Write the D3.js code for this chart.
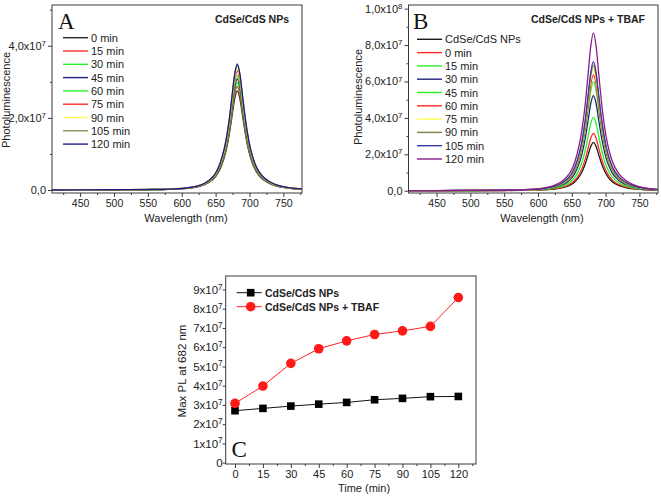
<!DOCTYPE html>
<html><head><meta charset="utf-8">
<script src="https://cdn.jsdelivr.net/npm/d3@7"></script>
<style>
body{margin:0;background:#fff;}
svg{display:block;font-family:"Liberation Sans",Arial,sans-serif;}
</style></head>
<body>
<script>
// ---------- DATA ----------
// shared wavelength grid and normalised emission profile (peak ~682 nm)
const wavelengths = [408, 450, 500, 550, 580, 600, 615, 625, 635, 645, 650, 655, 660, 665, 670, 674, 678, 682, 686, 690, 694, 699, 704, 710, 720, 730, 740, 750, 760, 777];
const profile     = [0.000, 0.001, 0.002, 0.004, 0.007, 0.012, 0.022, 0.035, 0.058, 0.100, 0.135, 0.190, 0.270, 0.385, 0.555, 0.735, 0.915, 1.000, 0.915, 0.735, 0.560, 0.390, 0.275, 0.185, 0.105, 0.065, 0.040, 0.026, 0.017, 0.008];

// Panel A
const seriesA = ["0 min", "15 min", "30 min", "45 min", "60 min", "75 min", "90 min", "105 min", "120 min"];
const peaksA  = [2.75e7, 2.87e7, 2.98e7, 3.08e7, 3.18e7, 3.30e7, 3.38e7, 3.46e7, 3.50e7];
const colorsA = ["#2a2a2a", "#ff2a2a", "#2aee2a", "#22227e", "#2aee2a", "#ff2a2a", "#ffff55", "#8a8a55", "#1c1c88"];
const yTickValsA = [0, 2e7, 4e7];
const yTickMantA = ["0,0", "2,0x10", "4,0x10"];
const yTickExpA  = ["", "7", "7"];

// Panel B
const seriesB = ["CdSe/CdS NPs", "0 min", "15 min", "30 min", "45 min", "60 min", "75 min", "90 min", "105 min", "120 min"];
const peaksB  = [2.66e7, 3.15e7, 4.03e7, 5.22e7, 5.99e7, 6.36e7, 6.72e7, 6.90e7, 7.09e7, 8.65e7];
const colorsB = ["#1a1a1a", "#ff2a2a", "#2aee2a", "#22227e", "#2aee2a", "#ff2a2a", "#ffff55", "#808045", "#3a3aa0", "#8b1a8b"];
const yTickValsB = [0, 2e7, 4e7, 6e7, 8e7, 1e8];
const yTickMantB = ["0,0", "2,0x10", "4,0x10", "6,0x10", "8,0x10", "1,0x10"];
const yTickExpB  = ["", "7", "7", "7", "7", "8"];

// Spectra x ticks
const xTicksSpec = [450, 500, 550, 600, 650, 700, 750];
const xMinorSpec = [425, 475, 525, 575, 625, 675, 725, 775];

// Panel C
const timesC   = [0, 15, 30, 45, 60, 75, 90, 105, 120];
const npsC     = [2.70e7, 2.82e7, 2.94e7, 3.04e7, 3.13e7, 3.27e7, 3.34e7, 3.43e7, 3.44e7];
const tbafC    = [3.08e7, 3.98e7, 5.16e7, 5.92e7, 6.33e7, 6.66e7, 6.85e7, 7.08e7, 8.58e7];
const legendC  = ["CdSe/CdS NPs", "CdSe/CdS NPs + TBAF"];
const yTickValsC = [0, 1e7, 2e7, 3e7, 4e7, 5e7, 6e7, 7e7, 8e7, 9e7];
const yTickMantC = ["0", "1x10", "2x10", "3x10", "4x10", "5x10", "6x10", "7x10", "8x10", "9x10"];
const yTickExpC  = ["", "7", "7", "7", "7", "7", "7", "7", "7", "7"];
const xMinorC = [7.5, 22.5, 37.5, 52.5, 67.5, 82.5, 97.5, 112.5, 127.5];

// ---------- DRAW ----------
const svg = d3.select("body").append("svg").attr("width", 661).attr("height", 496);
const AX = "#3a3a3a";

function supLabels(axisG, mant, exp, fs) {
  axisG.selectAll(".tick text").each(function(d, i) {
    const t = d3.select(this);
    t.text(null).attr("font-size", fs).attr("fill", "#222");
    t.append("tspan").text(mant[i]);
    if (exp[i]) t.append("tspan").attr("dy", "-0.5em").attr("font-size", fs * 0.72).text(exp[i]);
  });
}

function styleAxis(g) {
  g.select(".domain").remove();
  g.selectAll(".tick line").attr("stroke", AX);
}

function spectraPanel(o) {
  const x = d3.scaleLinear().domain([408.5, 777.5]).range([o.left, o.right]);
  const y = d3.scaleLinear().domain(o.ydom).range([o.bottom, o.top]);
  const clipId = "clip" + o.id;
  svg.append("clipPath").attr("id", clipId).append("rect")
    .attr("x", o.left).attr("y", o.top).attr("width", o.right - o.left).attr("height", o.bottom - o.top);

  const line = d3.line().curve(d3.curveMonotoneX);
  const gl = svg.append("g").attr("clip-path", `url(#${clipId})`);
  o.peaks.forEach((pk, si) => {
    const pts = wavelengths.map((w, k) => [x(w), y(profile[k] * pk)]);
    gl.append("path").attr("d", line(pts)).attr("fill", "none")
      .attr("stroke", o.colors[si]).attr("stroke-width", 1.3);
  });

  // axes
  const gx = svg.append("g").attr("transform", `translate(0,${o.bottom})`)
    .call(d3.axisBottom(x).tickValues(xTicksSpec).tickSize(4).tickPadding(3));
  styleAxis(gx);
  gx.selectAll(".tick text").attr("font-size", 10.5).attr("fill", "#222");
  const gxm = svg.append("g").attr("transform", `translate(0,${o.bottom})`)
    .call(d3.axisBottom(x).tickValues(xMinorSpec.filter(v => v < 777)).tickSize(2).tickFormat(""));
  styleAxis(gxm);

  const gy = svg.append("g").attr("transform", `translate(${o.left},0)`)
    .call(d3.axisLeft(y).tickValues(o.yTicks).tickSize(4).tickPadding(2));
  styleAxis(gy);
  supLabels(gy, o.yMant, o.yExp, 11);
  const gym = svg.append("g").attr("transform", `translate(${o.left},0)`)
    .call(d3.axisLeft(y).tickValues(o.yMinor).tickSize(2).tickFormat(""));
  styleAxis(gym);

  svg.append("rect").attr("x", o.left).attr("y", o.top).attr("width", o.right - o.left)
    .attr("height", o.bottom - o.top).attr("fill", "none").attr("stroke", AX).attr("stroke-width", 1);

  // axis titles
  svg.append("text").attr("x", o.xlabX).attr("y", 222).attr("text-anchor", "middle")
    .attr("font-size", 11).attr("fill", "#222").text("Wavelength (nm)");
  svg.append("text").attr("transform", `translate(${o.ylabX},${o.ylabY}) rotate(-90)`)
    .attr("text-anchor", "middle").attr("font-size", 11).attr("fill", "#222").text("Photoluminescence");

  // panel letter and title
  svg.append("text").attr("x", o.letterX).attr("y", o.letterY)
    .attr("font-family", "'Liberation Serif','Times New Roman',serif").attr("font-size", 23).attr("fill", "#111").text(o.letter);
  svg.append("text").attr("x", o.titleX).attr("y", 23).attr("text-anchor", "end")
    .attr("font-size", 10.5).attr("font-weight", "bold").attr("fill", "#222").text(o.title);

  // legend
  o.series.forEach((s, i) => {
    const cy = o.legY + i * 13.3;
    svg.append("line").attr("x1", o.legX1).attr("x2", o.legX2).attr("y1", cy).attr("y2", cy)
      .attr("stroke", o.colors[i]).attr("stroke-width", 1.4);
    svg.append("text").attr("x", o.legX2 + 3).attr("y", cy + 4).attr("font-size", 11)
      .attr("fill", "#222").text(s);
  });
}

spectraPanel({
  id: "A", left: 52, right: 302, top: 5, bottom: 193, ydom: [-0.083e7, 5.13e7],
  peaks: peaksA, colors: colorsA, series: seriesA,
  yTicks: yTickValsA, yMant: yTickMantA, yExp: yTickExpA, yMinor: [1e7, 3e7, 5e7],
  xlabX: 186, ylabX: 10, ylabY: 100, letter: "A", letterX: 58, letterY: 29,
  title: "CdSe/CdS NPs", titleX: 289, legX1: 63, legX2: 88, legY: 37.7
});

spectraPanel({
  id: "B", left: 408.5, right: 658, top: 5, bottom: 193, ydom: [-0.126e7, 10.2e7],
  peaks: peaksB, colors: colorsB, series: seriesB,
  yTicks: yTickValsB, yMant: yTickMantB, yExp: yTickExpB, yMinor: [1e7, 3e7, 5e7, 7e7, 9e7],
  xlabX: 542, ylabX: 362, ylabY: 97, letter: "B", letterX: 413, letterY: 29,
  title: "CdSe/CdS NPs + TBAF", titleX: 645, legX1: 417, legX2: 442, legY: 39.3
});

// ---------- Panel C ----------
(function() {
  const L = 225.7, R = 476, T = 276, B = 464;
  const x = d3.scaleLinear().domain([-5, 129.5]).range([L, R]);
  const y = d3.scaleLinear().domain([-0.07e7, 9.7e7]).range([B, T]);

  const gx = svg.append("g").attr("transform", `translate(0,${B})`)
    .call(d3.axisBottom(x).tickValues(timesC).tickSize(4).tickPadding(2));
  styleAxis(gx);
  gx.selectAll(".tick text").attr("font-size", 11).attr("fill", "#222");
  const gxm = svg.append("g").attr("transform", `translate(0,${B})`)
    .call(d3.axisBottom(x).tickValues(xMinorC).tickSize(2).tickFormat(""));
  styleAxis(gxm);

  const gy = svg.append("g").attr("transform", `translate(${L},0)`)
    .call(d3.axisLeft(y).tickValues(yTickValsC).tickSize(3).tickPadding(0));
  styleAxis(gy);
  supLabels(gy, yTickMantC, yTickExpC, 11.5);

  svg.append("rect").attr("x", L).attr("y", T).attr("width", R - L).attr("height", B - T)
    .attr("fill", "none").attr("stroke", AX).attr("stroke-width", 1);

  const line = d3.line().x((d, i) => x(timesC[i])).y(d => y(d));
  svg.append("path").attr("d", line(npsC)).attr("fill", "none").attr("stroke", "#111").attr("stroke-width", 1);
  svg.append("path").attr("d", line(tbafC)).attr("fill", "none").attr("stroke", "#ff2020").attr("stroke-width", 1);
  svg.selectAll(".sq").data(npsC).enter().append("rect")
    .attr("x", (d, i) => x(timesC[i]) - 3.8).attr("y", d => y(d) - 3.8)
    .attr("width", 7.6).attr("height", 7.6).attr("fill", "#000");
  svg.selectAll(".ci").data(tbafC).enter().append("circle")
    .attr("cx", (d, i) => x(timesC[i])).attr("cy", d => y(d)).attr("r", 4.8).attr("fill", "#ff1a1a");

  // legend
  const legY = [292.7, 306.7];
  const legCol = ["#111", "#ff2020"];
  legendC.forEach((s, i) => {
    svg.append("line").attr("x1", 236.7).attr("x2", 261.7).attr("y1", legY[i]).attr("y2", legY[i])
      .attr("stroke", legCol[i]).attr("stroke-width", 1);
    if (i === 0) svg.append("rect").attr("x", 250.7 - 3.8).attr("y", legY[i] - 3.8).attr("width", 7.6).attr("height", 7.6).attr("fill", "#000");
    else svg.append("circle").attr("cx", 250.7).attr("cy", legY[i]).attr("r", 4.8).attr("fill", "#ff1a1a");
    svg.append("text").attr("x", 265).attr("y", legY[i] + 4).attr("font-size", 10.5).attr("font-weight", "bold")
      .attr("fill", "#222").text(s);
  });

  svg.append("text").attr("x", 364).attr("y", 492).attr("text-anchor", "middle")
    .attr("font-size", 11).attr("fill", "#222").text("Time (min)");
  svg.append("text").attr("transform", `translate(186,371) rotate(-90)`).attr("text-anchor", "middle")
    .attr("font-size", 11.5).attr("fill", "#222").text("Max PL at 682 nm");
  svg.append("text").attr("x", 231.5).attr("y", 456.7)
    .attr("font-family", "'Liberation Serif','Times New Roman',serif").attr("font-size", 23).attr("fill", "#111").text("C");
})();
</script>
</body></html>
